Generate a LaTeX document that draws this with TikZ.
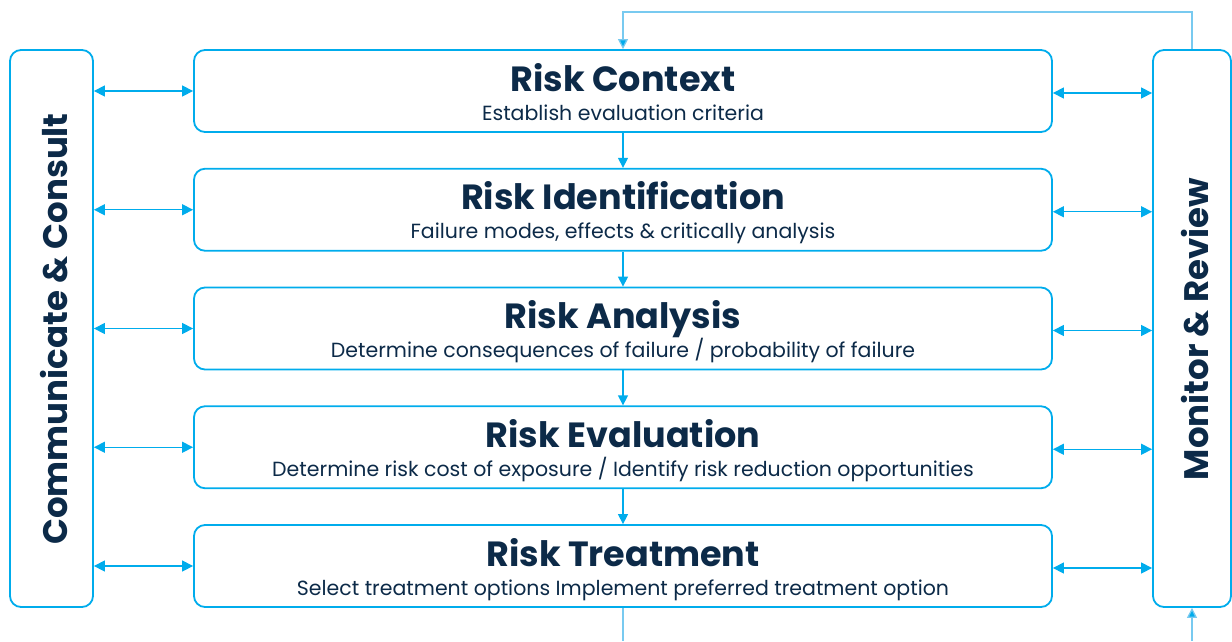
\documentclass[tikz,border=0pt]{standalone}
\usepackage{fontspec}
\setmainfont{Poppins}
\usetikzlibrary{arrows.meta,positioning,calc}
\definecolor{RiskBlue}{RGB}{0,172,236}
\definecolor{RiskNavy}{RGB}{12,42,72}
\definecolor{LoopBlue}{RGB}{120,202,240}

\begin{document}
\begin{tikzpicture}[x=1pt,y=-1pt,>={Triangle[length=11pt,width=11pt]},
    stage/.style={draw=RiskBlue,line width=1.8pt,rounded corners=11pt,minimum width=858pt,minimum height=82pt,inner sep=0pt},
    side/.style={draw=RiskBlue,line width=1.8pt,rounded corners=11pt,minimum height=557pt,inner sep=0pt},
    sidetext/.style={rotate=90,text=RiskNavy,font=\fontsize{34}{40}\selectfont\bfseries},
    link/.style={RiskBlue,line width=1.3pt},
    loop/.style={LoopBlue,line width=1.3pt},
    small/.style={>={Triangle[length=10pt,width=10pt,fill=RiskBlue]}},
    ttl/.style={anchor=base,text=RiskNavy,font=\fontsize{35}{40}\selectfont\bfseries},
    sub/.style={anchor=base,text=RiskNavy,font=\fontsize{20.5}{24}\selectfont}]
  \useasboundingbox (0,0) rectangle (1232,641);
  % side boxes
  \node[side,minimum width=83pt] (comm) at (51.5,328.5) {};
  \node[side,minimum width=78pt] (mon) at (1192,328.5) {};
  \node[sidetext] at (54,329) {Communicate \& Consult};
  \node[sidetext] at (1195,329) {Monitor \& Review};
  % the five stages
  \foreach \i/\head/\txt in {1/Risk Context/{Establish evaluation criteria},
      2/Risk Identification/{Failure modes, effects \& critically analysis},
      3/Risk Analysis/{Determine consequences of failure / probability of failure},
      4/Risk Evaluation/{Determine risk cost of exposure / Identify risk reduction opportunities},
      5/Risk Treatment/{Select treatment options Implement preferred treatment option}}{
    \node[stage] (s\i) at (623,{91+118.75*(\i-1)}) {};
    \node[ttl] at ($(s\i.north)+(0,42)$) {\head};
    \node[sub] at ($(s\i.north)+(0,71)$) {\txt};
    \draw[link,<->] (comm.east |- s\i) -- (s\i.west);
    \draw[link,<->] ($(s\i.east)+(0,2)$) -- ($(s\i.east -| mon.west)+(0,2)$);
  }
  \foreach \i [evaluate=\i as \j using int(\i+1)] in {1,...,4}
    \draw[link,->,small] (s\i.south) -- (s\j.north);
  % feedback loop
  \draw[loop,->,small] (mon.north) -- ++(0,-37) -| (s1.north);
  \coordinate (out) at (s5.south |- 0,641);
  \coordinate (back) at (mon.south |- 0,641);
  \draw[loop] (s5.south) -- (out);
  \draw[loop,->,small] (back) -- (mon.south);
\end{tikzpicture}
\end{document}
